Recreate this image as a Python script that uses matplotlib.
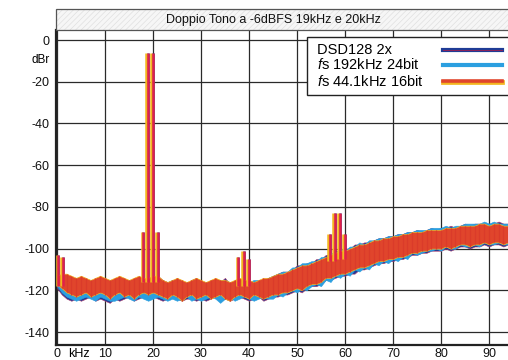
import matplotlib.pyplot as plt
import matplotlib.patheffects as pe
from matplotlib.patches import Rectangle
import numpy as np

plt.rcParams['font.family'] = ['Liberation Sans', 'DejaVu Sans']
plt.rcParams['mathtext.fontset'] = 'custom'
plt.rcParams['mathtext.it'] = 'Liberation Sans:italic'
plt.rcParams['mathtext.rm'] = 'Liberation Sans'
plt.rcParams['hatch.linewidth'] = 0.5

# Data (noise floor envelopes at 1 kHz steps, dBr)
freq_khz = np.arange(0, 95)

red_upper = [-113, -112, -112, -113, -114, -113, -114, -115, -114, -113,
             -114, -115, -114, -113, -114, -115, -114, -113, -114, -114,
             -113, -113, -115, -116, -115, -114, -115, -116, -115, -114,
             -115, -116, -115, -114, -115, -115, -116, -115, -114, -115,
             -115, -116, -115, -114, -114, -113, -112, -112, -111, -110,
             -109, -108, -108, -107, -106, -105, -104, -103, -102, -101,
             -101, -100, -99, -98, -98, -97, -96, -96, -95, -95,
             -94, -94, -93, -93, -92, -92, -92, -91, -91, -91,
             -91, -90, -90, -90, -89, -89, -89, -89, -88, -88,
             -89, -88, -88, -89, -89]
red_lower = [-117, -119, -121, -122, -123, -122, -121, -123, -122, -121,
             -122, -124, -122, -121, -123, -122, -124, -122, -121, -122,
             -121, -122, -123, -124, -122, -123, -125, -123, -122, -124,
             -123, -122, -124, -123, -122, -124, -125, -123, -122, -123,
             -124, -122, -123, -124, -123, -122, -122, -121, -121, -120,
             -119, -120, -118, -117, -117, -116, -114, -114, -113, -112,
             -112, -111, -110, -109, -109, -108, -107, -106, -106, -105,
             -105, -104, -104, -103, -102, -102, -101, -101, -100, -100,
             -100, -99, -100, -99, -98, -98, -99, -98, -98, -97,
             -98, -97, -97, -98, -97]

dsd_upper = [-114, -113, -113, -114, -115, -114, -115, -116, -115, -114,
             -115, -116, -115, -114, -115, -116, -115, -114, -115, -115,
             -114, -113, -115, -116, -116, -114, -116, -117, -115, -114,
             -116, -117, -115, -115, -116, -114, -117, -116, -115, -116,
             -116, -116, -115, -115, -114, -113, -112, -111, -111, -110,
             -108, -108, -107, -107, -105, -105, -103, -103, -101, -101,
             -100, -100, -98, -98, -97, -97, -96, -95, -95, -94,
             -94, -93, -93, -92, -92, -91, -92, -91, -90, -91,
             -90, -90, -89, -90, -89, -88, -89, -88, -88, -88,
             -88, -88, -87, -88, -88]
dsd_lower = [-119, -122, -124, -125, -124, -125, -124, -123, -125, -124,
             -125, -126, -124, -125, -124, -123, -125, -124, -123, -124,
             -123, -124, -125, -124, -123, -124, -125, -124, -124, -125,
             -124, -125, -124, -123, -125, -124, -125, -124, -123, -124,
             -125, -124, -123, -125, -124, -123, -123, -122, -122, -121,
             -120, -121, -119, -118, -118, -117, -115, -115, -114, -113,
             -113, -112, -112, -110, -110, -109, -108, -107, -107, -106,
             -106, -105, -105, -104, -103, -103, -102, -102, -101, -101,
             -101, -100, -101, -100, -99, -99, -100, -99, -99, -98,
             -99, -98, -98, -99, -98]

hr_upper = [-114, -113, -113, -114, -114, -114, -115, -115, -115, -114,
            -115, -115, -115, -114, -115, -115, -115, -114, -115, -115,
            -114, -114, -116, -116, -115, -115, -116, -116, -116, -115,
            -116, -116, -116, -115, -115, -115, -116, -116, -115, -115,
            -116, -115, -115, -115, -114, -113, -112, -111, -111, -109,
            -109, -107, -107, -106, -106, -104, -104, -102, -102, -100,
            -101, -99, -99, -97, -98, -96, -96, -95, -95, -94,
            -94, -93, -93, -92, -92, -91, -91, -91, -90, -90,
            -90, -89, -90, -89, -89, -88, -88, -88, -88, -87,
            -88, -87, -88, -88, -88]
hr_lower = [-118, -121, -123, -124, -125, -124, -123, -124, -125, -123,
            -124, -125, -125, -124, -123, -124, -125, -123, -124, -125,
            -124, -123, -124, -125, -124, -125, -124, -123, -125, -124,
            -125, -124, -123, -124, -126, -124, -123, -125, -124, -123,
            -124, -125, -124, -123, -124, -124, -122, -123, -121, -120,
            -121, -119, -120, -118, -117, -118, -115, -116, -113, -114,
            -112, -113, -110, -111, -109, -110, -107, -108, -106, -107,
            -105, -106, -104, -105, -102, -103, -102, -101, -101, -100,
            -101, -99, -100, -100, -98, -99, -99, -98, -99, -97,
            -98, -98, -97, -98, -98]

# tones and intermodulation products
tone_freq = [0.3, 1.3, 18, 19, 20, 21, 37.8, 38.9, 40, 56.9, 57.9, 59, 60]
tone_level = [-103, -104, -92, -6, -6, -92, -104, -101, -105, -93, -83, -83, -93]
tone_base = [-118, -118, -116, -116, -116, -116, -118, -118, -118, -106, -106, -105, -105]

y_ticks = [0, -20, -40, -60, -80, -100, -120, -140]
x_ticks = [0, 10, 20, 30, 40, 50, 60, 70, 80, 90]
labels = ["DSD128 2x", "$f$s 192kHz 24bit", "$f$s 44.1kHz 16bit"]

c_dsd = "#1f3c96"
c_hr = "#2b9fe0"
c_red = "#e0452c"
c_tone = "#e0204a"
c_yel = "#f3b61f"

fig = plt.figure(figsize=(5.08, 3.6), dpi=100)
ax = fig.add_axes([56 / 508, 15 / 360, 452 / 508, 315 / 360])

ax.fill_between(freq_khz, dsd_lower, dsd_upper, facecolor=c_dsd, edgecolor="#b03a6a", lw=0.4, zorder=2)
ax.fill_between(freq_khz, hr_lower, hr_upper, facecolor=c_hr, edgecolor=c_hr, lw=0.4, zorder=3)
ax.fill_between(freq_khz, red_lower, red_upper, facecolor=c_red, edgecolor=c_yel, lw=0.5, zorder=4)
# striations inside the red noise band
ax.vlines(freq_khz, red_lower, red_upper, color="#da3b2a", lw=0.9, zorder=4.5)

ax.vlines(tone_freq, tone_base, tone_level, color=c_dsd, lw=1.8, zorder=2)
ax.vlines(tone_freq, tone_base, tone_level, color=c_tone, lw=1.8, zorder=5,
          path_effects=[pe.Stroke(linewidth=1.8, foreground=c_yel, offset=(-1.3, 0)), pe.Normal()])

ax.set_xlim(-0.2, 93.96)
ax.set_ylim(-146.2, 4.8)
ax.set_xticks(x_ticks)
ax.set_xticklabels([str(v) for v in x_ticks])
ax.set_yticks(y_ticks)
ax.set_yticklabels([str(v) for v in y_ticks])
ax.tick_params(length=0, labelsize=9, colors="#111111")
ax.tick_params(axis="y", pad=4.5)
ax.tick_params(axis="x", pad=2)
ax.grid(True, color="#2a2a2a", lw=0.9, zorder=1)
ax.set_axisbelow(True)
for s in ["top", "right"]:
    ax.spines[s].set_visible(False)
for s in ["left", "bottom"]:
    ax.spines[s].set_linewidth(1.6)
    ax.spines[s].set_color("#222222")

ax.text(4.6, -147.6, "kHz", fontsize=9, ha="center", va="top", clip_on=False)
ax.text(-0.014, 0.905, "dBr", fontsize=8.5, ha="right", va="center", transform=ax.transAxes)

# title band
fig.patches.append(Rectangle((56 / 508, 330 / 360), 0.9, 21 / 360, transform=fig.transFigure,
                             facecolor="#f6f6f6", edgecolor="#e0e0e0", hatch="//////", lw=0))
fig.patches.append(Rectangle((56 / 508, 330 / 360), 0.9, 21 / 360, transform=fig.transFigure,
                             facecolor="none", edgecolor="#555555", lw=0.9))
fig.text(273 / 508, 340 / 360, "Doppio Tono a -6dBFS 19kHz e 20kHz", fontsize=9,
         ha="center", va="center", color="#111111")

# legend
ax.add_patch(Rectangle((0.555, 0.794), 0.5, 0.184, transform=ax.transAxes, facecolor="white",
                       edgecolor="#222222", lw=1.0, zorder=6, clip_on=False))
ys = [0.937, 0.889, 0.838]
for lab, yy in zip(labels, ys):
    ax.text(0.577, yy, lab, fontsize=10.5, ha="left", va="center", transform=ax.transAxes, zorder=7)
ax.plot([0.856, 0.987], [ys[0], ys[0]], color=c_dsd, lw=3, transform=ax.transAxes, zorder=7)
ax.plot([0.856, 0.987], [ys[0], ys[0]], color="#a02050", lw=0.6, transform=ax.transAxes, zorder=8)
ax.plot([0.856, 0.987], [ys[1], ys[1]], color=c_hr, lw=3, transform=ax.transAxes, zorder=7)
ax.plot([0.856, 0.987], [ys[2], ys[2]], color=c_red, lw=2.6, transform=ax.transAxes, zorder=7,
        path_effects=[pe.Stroke(linewidth=3.4, foreground=c_yel, offset=(0, -0.8)), pe.Normal()])

fig.savefig("out.png", dpi=100)
